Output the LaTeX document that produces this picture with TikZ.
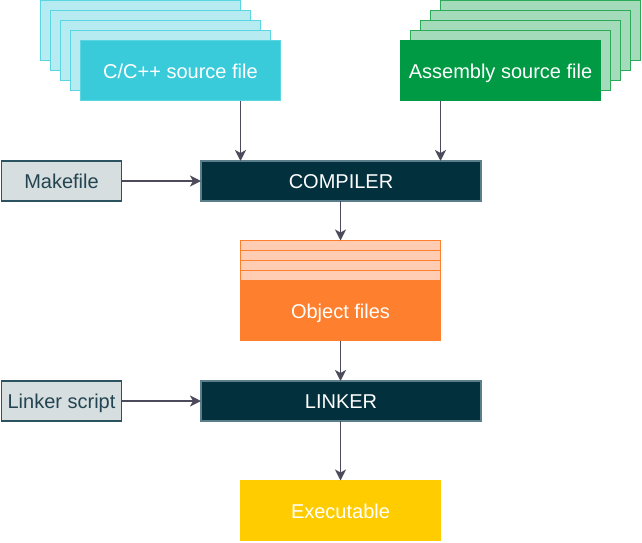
\documentclass[tikz,border=0pt]{standalone}
\usepackage{fontspec}
\setmainfont{Liberation Sans}
\usetikzlibrary{arrows.meta}
\definecolor{cyanF}{HTML}{3ACBDB}
\definecolor{cyanB}{HTML}{B6EBF1}
\definecolor{cyanL}{HTML}{5AD6E3}
\definecolor{grnF}{HTML}{009A44}
\definecolor{grnB}{HTML}{A4DCBB}
\definecolor{grnL}{HTML}{2BAA58}
\definecolor{orgF}{HTML}{FE7F2D}
\definecolor{orgB}{HTML}{FFCDB3}
\definecolor{darkF}{HTML}{02303D}
\definecolor{darkL}{HTML}{5A7F8A}
\definecolor{greyF}{HTML}{D6DEE0}
\definecolor{greyL}{HTML}{2C5460}
\definecolor{greyT}{HTML}{234450}
\definecolor{yelF}{HTML}{FFCC00}
\definecolor{arrC}{HTML}{4B4B5C}
\begin{document}
\begin{tikzpicture}[x=1pt,y=-1pt,
  base/.style={draw, line width=1.2pt, inner sep=0pt, outer sep=0pt, anchor=north west,
    font=\fontsize{20}{22}\selectfont, text=white, text height=19.6pt, text depth=4pt},
  big/.style={base, minimum width=200pt, minimum height=60pt},
  cback/.style={big, fill=cyanB, draw=cyanL},
  cfr/.style={big, fill=cyanF, draw=cyanL},
  aback/.style={big, fill=grnB, draw=grnL},
  afr/.style={big, fill=grnF, draw=grnF},
  stage/.style={base, minimum width=280pt, minimum height=40pt, fill=darkF, draw=darkL},
  side/.style={base, minimum width=120pt, minimum height=40pt, fill=greyF, draw=greyL, line width=1.5pt, text=greyT},
  stripe/.style={base, minimum width=200pt, minimum height=10pt, fill=orgB, draw=orgF, text height=0pt, text depth=0pt},
  conn/.style={draw=arrC, line width=1.8pt, -{Stealth[length=11pt,width=11pt,inset=3pt]}}]
\useasboundingbox (0,0) rectangle (642,542);
% C/C++ stack
\node[cback] (cb1) at (40.5,0.5) {};
\node[cback] (cb2) at (50.5,10.5) {};
\node[cback] (cb3) at (60.5,20.5) {};
\node[cback] (cb4) at (70.5,30.5) {};
\node[cfr] (cfront) at (80.5,40.5) {C/C++ source file};
% Assembly stack
\node[aback] (ab1) at (440.5,0.5) {};
\node[aback] (ab2) at (430.5,10.5) {};
\node[aback] (ab3) at (420.5,20.5) {};
\node[aback] (ab4) at (410.5,30.5) {};
\node[afr] (afront) at (400.5,40.5) {Assembly source file};
% Compiler
\node[stage] (compiler) at (201,161) {COMPILER};
\node[side] (makefile) at (1.5,161) {Makefile};
% Object files
\node[big, minimum height=100pt, fill=orgF, draw=orgF] (objbg) at (240.5,240.5) {};
\node[stripe] (s1) at (240.5,240.5) {};
\node[stripe] (s2) at (240.5,250.5) {};
\node[stripe] (s3) at (240.5,260.5) {};
\node[stripe] (s4) at (240.5,270.5) {};
\node[base, draw=none, minimum width=200pt, minimum height=60pt] (obj) at (240.5,281) {Object files};
% Linker
\node[stage] (linker) at (201,381) {LINKER};
\node[side] (lscript) at (1.5,381) {Linker script};
% Executable
\node[big, fill=yelF, draw=yelF] (exe) at (240.5,480.5) {Executable};
% Connectors
\draw[conn] ([xshift=60pt]cfront.south) -- ([xshift=60pt]cfront.south |- compiler.north);
\draw[conn] ([xshift=-60pt]afront.south) -- ([xshift=-60pt]afront.south |- compiler.north);
\draw[conn] (makefile.east) -- (makefile.east -| compiler.west);
\draw[conn] (compiler.south -| s1.north) -- (s1.north);
\draw[conn] (objbg.south) -- (objbg.south |- linker.north);
\draw[conn] (lscript.east) -- (lscript.east -| linker.west);
\draw[conn] (linker.south -| exe.north) -- (exe.north);
\end{tikzpicture}
\end{document}
